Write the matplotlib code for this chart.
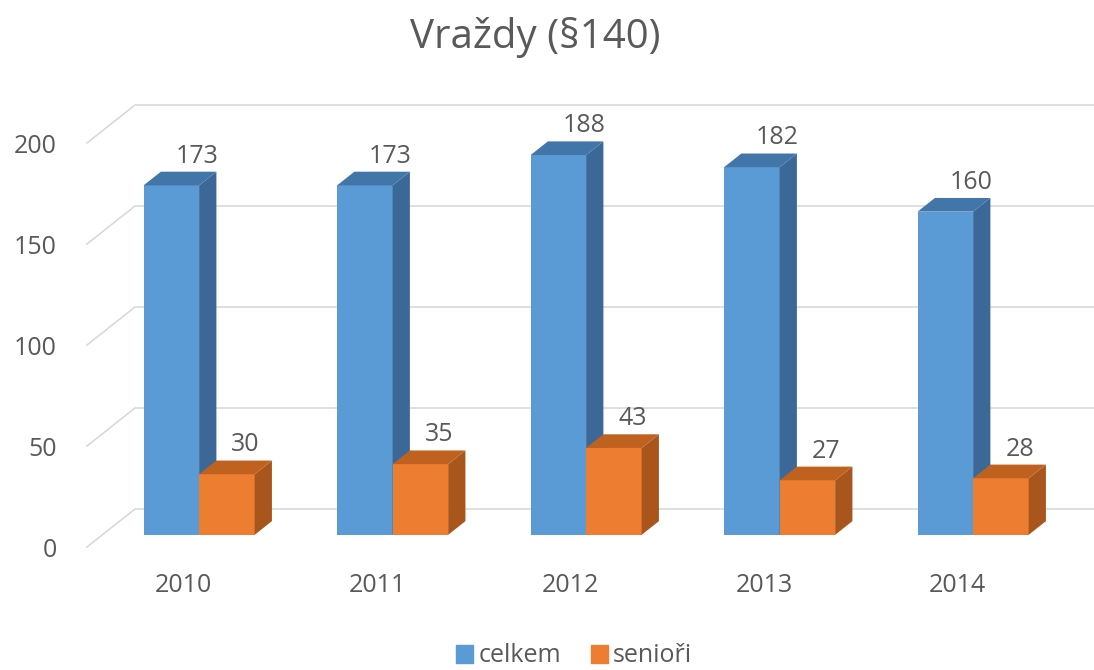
import numpy as np
import matplotlib.pyplot as plt
from matplotlib.patches import Polygon, Patch

# data
roky = ['2010', '2011', '2012', '2013', '2014']
celkem = [173, 173, 188, 182, 160]
seniori = [30, 35, 43, 27, 28]
yticks = [0, 50, 100, 150, 200]

plt.rcParams['font.family'] = ['Open Sans', 'DejaVu Sans']
txt = '#595959'
grid_c = '#d9d9d9'

W, H = 1094, 670
fig = plt.figure(figsize=(W / 100, H / 100), dpi=100)
# front plane: x 0 -> px 87, 193.5 px per category; y 0 -> px 547, 2.02 px per unit
px_x, px_y = 193.5, 2.02
left_px, base_px, bot_px, top_px = 87, 547, 560, 90
ax = fig.add_axes([left_px / W, (H - bot_px) / H, (W - left_px) / W, (bot_px - top_px) / H])
ax.set_xlim(0, (W - left_px) / px_x)
ax.set_ylim(-(bot_px - base_px) / px_y, (base_px - top_px) / px_y)
ax.axis('off')

# oblique depth offsets (full depth)
DX, DY = 48 / px_x, 38 / px_y
d0, d1 = 0.32, 0.68
bw = 0.287

def proj(x, v, d):
    return (x + DX * d, v + DY * d)

# back wall gridlines
xmax = ax.get_xlim()[1]
for v in yticks:
    p0 = proj(0, v, 0)
    p1 = proj(0, v, 1)
    ax.plot([p0[0], p1[0], xmax], [p0[1], p1[1], p1[1]], color=grid_c, lw=1.2, zorder=1, clip_on=False)
    ax.text(-0.155, v - 1.5, str(v), ha='right', va='center', fontsize=18, color=txt)

def bar3d(xl, v, front, side, top, z):
    x0, y0 = proj(xl, 0, d0)
    ax.bar(x0, v, width=bw, bottom=y0, align='edge', color=front, zorder=z, lw=0)
    xr = xl + bw
    s = [proj(xr, 0, d0), proj(xr, 0, d1), proj(xr, v, d1), proj(xr, v, d0)]
    ax.add_patch(Polygon(s, closed=True, facecolor=side, edgecolor='none', zorder=z))
    t = [proj(xl, v, d0), proj(xr, v, d0), proj(xr, v, d1), proj(xl, v, d1)]
    ax.add_patch(Polygon(t, closed=True, facecolor=top, edgecolor='none', zorder=z))

series = [
    (celkem, '#5b9bd5', '#3b6896', '#4276a8', -bw, 0.088),
    (seniori, '#ed7d31', '#a9561d', '#c0621f', 0.0, 0.052),
]
for i in range(len(roky)):
    c = i + 0.5
    for k, (vals, fc, sc, tc, off, loff) in enumerate(series):
        v = vals[i]
        bar3d(c + off, v, fc, sc, tc, 3 + 2 * i + k)
        lx, ly = proj(c + off + bw / 2, v, d1)
        ax.text(lx - DX * (d1 - d0) / 2 + loff, ly + 4.5, str(v), ha='center', va='baseline',
                fontsize=18, color=txt, zorder=20)
    ax.text(c, -(585 - base_px) / px_y, roky[i], ha='center', va='center', fontsize=18, color=txt)

fig.text(535 / W, 1 - 38 / H, 'Vraždy (§140)', ha='center', va='center', fontsize=29, color=txt)

handles = [Patch(color='#5b9bd5', label='celkem'), Patch(color='#ed7d31', label='senioři')]
leg = fig.legend(handles=handles, loc='center', bbox_to_anchor=(574 / W, 1 - 656 / H), ncol=2,
                 frameon=False, fontsize=18, handlelength=0.7, handleheight=0.7,
                 handletextpad=0.2, columnspacing=1.2)
for t in leg.get_texts():
    t.set_color(txt)

fig.savefig('out.png', dpi=100)
